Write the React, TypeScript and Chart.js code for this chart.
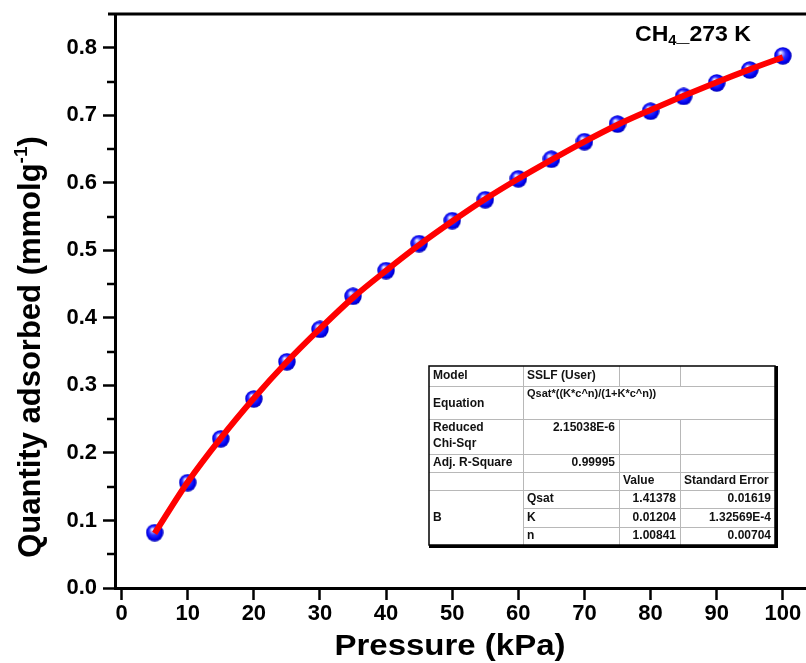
import React, { useEffect, useRef } from "react";
import { Chart, registerables } from "chart.js";

Chart.register(...registerables);

// ---- data ----
const pressures = [5, 10, 15, 20, 25, 30, 35, 40, 45, 50, 55, 60, 65, 70, 75, 80, 85, 90, 95, 100];
const adsorbed = [0.082, 0.156, 0.221, 0.280, 0.335, 0.383, 0.432, 0.470, 0.510, 0.544, 0.575, 0.606, 0.635, 0.661, 0.687, 0.706, 0.728, 0.748, 0.767, 0.788];
const fitValues = [0.081, 0.157, 0.222, 0.281, 0.335, 0.384, 0.430, 0.470, 0.508, 0.543, 0.576, 0.606, 0.634, 0.661, 0.686, 0.708, 0.729, 0.749, 0.768, 0.786];
const xTicks = [0, 10, 20, 30, 40, 50, 60, 70, 80, 90, 100];
const yTicks = [0, 0.1, 0.2, 0.3, 0.4, 0.5, 0.6, 0.7, 0.8];
const yMinorTicks = [0.05, 0.15, 0.25, 0.35, 0.45, 0.55, 0.65, 0.75];
const xTitle = "Pressure (kPa)";
const yTitleMain = "Quantity adsorbed (mmolg";
const yTitleSup = "-1";
const yTitleEnd = ")";
const seriesName = ["CH", "4", "_273 K"];

// fit table text
const tableModel = ["Model", "SSLF (User)"];
const tableEquation = ["Equation", "Qsat*((K*c^n)/(1+K*c^n))"];
const tableChi = ["Reduced", "Chi-Sqr", "2.15038E-6"];
const tableR2 = ["Adj. R-Square", "0.99995"];
const tableHeader = ["Value", "Standard Error"];
const tableGroup = "B";
const paramNames = ["Qsat", "K", "n"];
const paramValues = ["1.41378", "0.01204", "1.00841"];
const paramErrors = ["0.01619", "1.32569E-4", "0.00704"];

const FONT = "'Liberation Sans', Arial, sans-serif";

function makeSphere(size: number): HTMLCanvasElement {
  const c = document.createElement("canvas");
  c.width = size;
  c.height = size;
  const ctx = c.getContext("2d")!;
  const r = size / 2;
  const g = ctx.createRadialGradient(r * 0.72, r * 0.62, 0.3, r, r, r);
  g.addColorStop(0, "#f6f6ff");
  g.addColorStop(0.18, "#a8a8ff");
  g.addColorStop(0.45, "#3030ff");
  g.addColorStop(0.8, "#0000ee");
  g.addColorStop(1, "#0000b0");
  ctx.fillStyle = g;
  ctx.beginPath();
  ctx.arc(r, r, r - 0.3, 0, Math.PI * 2);
  ctx.fill();
  return c;
}

const decorPlugin = {
  id: "decor",
  afterDraw(chart: any) {
    const ctx: CanvasRenderingContext2D = chart.ctx;
    const area = chart.chartArea;
    const yScale = chart.scales.y;
    ctx.save();
    // top frame line
    ctx.strokeStyle = "#000";
    ctx.lineWidth = 3;
    ctx.beginPath();
    ctx.moveTo(area.left - 7, area.top);
    ctx.lineTo(chart.width, area.top);
    ctx.stroke();
    // minor y ticks
    ctx.lineWidth = 2.5;
    for (const v of yMinorTicks) {
      const y = Math.round(yScale.getPixelForValue(v));
      ctx.beginPath();
      ctx.moveTo(area.left - 8, y);
      ctx.lineTo(area.left, y);
      ctx.stroke();
    }

    ctx.fillStyle = "#000";
    // x title (slightly widened like the reference)
    ctx.save();
    ctx.translate(450, 647);
    ctx.scale(1.1, 1);
    ctx.font = `bold 30px ${FONT}`;
    ctx.textAlign = "center";
    ctx.textBaseline = "middle";
    ctx.fillText(xTitle, 0, 0);
    ctx.restore();

    // y title with superscript
    ctx.save();
    ctx.translate(29, 347);
    ctx.rotate(-Math.PI / 2);
    const mainFont = `bold 31px ${FONT}`;
    const supFont = `bold 19px ${FONT}`;
    ctx.font = mainFont;
    const w1 = ctx.measureText(yTitleMain).width;
    const w3 = ctx.measureText(yTitleEnd).width;
    ctx.font = supFont;
    const w2 = ctx.measureText(yTitleSup).width;
    const total = w1 + w2 + w3;
    let x = -total / 2;
    ctx.textAlign = "left";
    ctx.textBaseline = "alphabetic";
    ctx.font = mainFont;
    ctx.fillText(yTitleMain, x, 11);
    x += w1;
    ctx.font = supFont;
    ctx.fillText(yTitleSup, x, -2);
    x += w2;
    ctx.font = mainFont;
    ctx.fillText(yTitleEnd, x, 11);
    ctx.restore();

    // series label CH4_273 K
    {
      ctx.save();
      ctx.translate(635, 41);
      ctx.scale(1.05, 1);
      let lx = 0;
      ctx.textAlign = "left";
      ctx.textBaseline = "alphabetic";
      ctx.font = `bold 22px ${FONT}`;
      ctx.fillText(seriesName[0], lx, 0);
      lx += ctx.measureText(seriesName[0]).width;
      ctx.font = `bold 14px ${FONT}`;
      ctx.fillText(seriesName[1], lx, 4);
      lx += ctx.measureText(seriesName[1]).width;
      ctx.font = `bold 22px ${FONT}`;
      ctx.fillText(seriesName[2], lx, 0);
      ctx.restore();
    }

    // fit table
    const cx = [429, 523, 619, 680, 775];
    const ry = [366, 386, 419, 454, 472, 490, 508, 527, 545];
    ctx.fillStyle = "#fff";
    ctx.fillRect(cx[0], ry[0], cx[4] - cx[0], ry[8] - ry[0]);
    // inner grid
    ctx.strokeStyle = "#b8b8b8";
    ctx.lineWidth = 1;
    const hl = (y: number, x0: number, x1: number) => {
      ctx.beginPath();
      ctx.moveTo(x0, y + 0.5);
      ctx.lineTo(x1, y + 0.5);
      ctx.stroke();
    };
    const vl = (x: number, y0: number, y1: number) => {
      ctx.beginPath();
      ctx.moveTo(x + 0.5, y0);
      ctx.lineTo(x + 0.5, y1);
      ctx.stroke();
    };
    for (let i = 1; i <= 5; i++) hl(ry[i], cx[0], cx[4]);
    hl(ry[6], cx[1], cx[4]);
    hl(ry[7], cx[1], cx[4]);
    vl(cx[1], ry[0], ry[8]);
    vl(cx[2], ry[0], ry[1]);
    vl(cx[3], ry[0], ry[1]);
    vl(cx[2], ry[2], ry[8]);
    vl(cx[3], ry[2], ry[8]);
    // outer border with shadow
    ctx.fillStyle = "#000";
    ctx.fillRect(cx[4], ry[0], 3, ry[8] - ry[0] + 3);
    ctx.fillRect(cx[0], ry[8], cx[4] - cx[0] + 3, 3);
    ctx.strokeStyle = "#000";
    ctx.lineWidth = 1.5;
    ctx.strokeRect(cx[0], ry[0], cx[4] - cx[0], ry[8] - ry[0]);

    ctx.fillStyle = "#111";
    ctx.font = `bold 12px ${FONT}`;
    ctx.textBaseline = "middle";
    const mid = (i: number) => (ry[i] + ry[i + 1]) / 2;
    const L = (t: string, col: number, y: number) => {
      ctx.textAlign = "left";
      ctx.fillText(t, cx[col] + 4, y);
    };
    const R = (t: string, col: number, y: number) => {
      ctx.textAlign = "right";
      ctx.fillText(t, cx[col + 1] - 4, y);
    };
    L(tableModel[0], 0, mid(0));
    L(tableModel[1], 1, mid(0));
    L(tableEquation[0], 0, mid(1) + 1);
    ctx.font = `bold 11px ${FONT}`;
    L(tableEquation[1], 1, ry[1] + 8);
    ctx.font = `bold 12px ${FONT}`;
    L(tableChi[0], 0, ry[2] + 9);
    L(tableChi[1], 0, ry[2] + 25);
    R(tableChi[2], 1, ry[2] + 9);
    L(tableR2[0], 0, mid(3));
    R(tableR2[1], 1, mid(3));
    L(tableHeader[0], 2, mid(4));
    L(tableHeader[1], 3, mid(4));
    L(tableGroup, 0, (ry[5] + ry[8]) / 2);
    for (let i = 0; i < 3; i++) {
      L(paramNames[i], 1, mid(5 + i));
      R(paramValues[i], 2, mid(5 + i));
      R(paramErrors[i], 3, mid(5 + i));
    }
    ctx.restore();
  },
};

export default function App() {
  const ref = useRef<HTMLCanvasElement | null>(null);
  useEffect(() => {
    if (!ref.current) return;
    const sphere = makeSphere(18);
    const tickFont = { family: FONT, size: 22, weight: "bold" as const };
    const chart = new Chart(ref.current, {
      type: "scatter",
      data: {
        datasets: [
          {
            type: "line",
            label: "fit",
            data: pressures.map((p, i) => ({ x: p, y: fitValues[i] })),
            borderColor: "#ff0000",
            borderWidth: 6,
            pointRadius: 0,
            tension: 0.4,
            cubicInterpolationMode: "monotone",
            fill: false,
            order: 0,
          },
          {
            type: "scatter",
            label: "data",
            data: pressures.map((p, i) => ({ x: p, y: adsorbed[i] })),
            pointStyle: sphere,
            pointRadius: 9,
            order: 1,
          },
        ],
      } as any,
      options: {
        responsive: false,
        animation: false,
        devicePixelRatio: 1,
        layout: { autoPadding: false, padding: { top: 14, right: 0, left: 0, bottom: 0 } },
        plugins: { legend: { display: false }, tooltip: { enabled: false } },
        scales: {
          x: {
            type: "linear",
            min: -1,
            max: 103.5,
            afterBuildTicks: (s: any) => {
              s.ticks = xTicks.map((v) => ({ value: v }));
            },
            afterFit: (s: any) => {
              s.height = 75;
              s.paddingLeft = 0;
              s.paddingRight = 0;
            },
            ticks: { font: tickFont, color: "#000", padding: 1, maxRotation: 0, autoSkip: false },
            grid: { drawOnChartArea: false, drawTicks: true, tickLength: 12, tickWidth: 2.5, tickColor: "#000" },
            border: { display: true, width: 3, color: "#000" },
          },
          y: {
            type: "linear",
            min: 0,
            max: 0.85,
            afterBuildTicks: (s: any) => {
              s.ticks = yTicks.map((v) => ({ value: v }));
            },
            afterFit: (s: any) => {
              s.width = 115;
              s.paddingTop = 0;
              s.paddingBottom = 0;
            },
            ticks: {
              font: tickFont,
              color: "#000",
              padding: 6,
              autoSkip: false,
              callback: (v: any) => Number(v).toFixed(1),
            },
            grid: { drawOnChartArea: false, drawTicks: true, tickLength: 12, tickWidth: 2.5, tickColor: "#000" },
            border: { display: true, width: 3, color: "#000" },
          },
        },
      } as any,
      plugins: [decorPlugin],
    });
    return () => chart.destroy();
  }, []);
  return (
    <div style={{ position: "absolute", left: 0, top: 0, width: 806, height: 663, background: "#fff" }}>
      <canvas ref={ref} width={806} height={663} style={{ display: "block", width: 806, height: 663 }} />
    </div>
  );
}
